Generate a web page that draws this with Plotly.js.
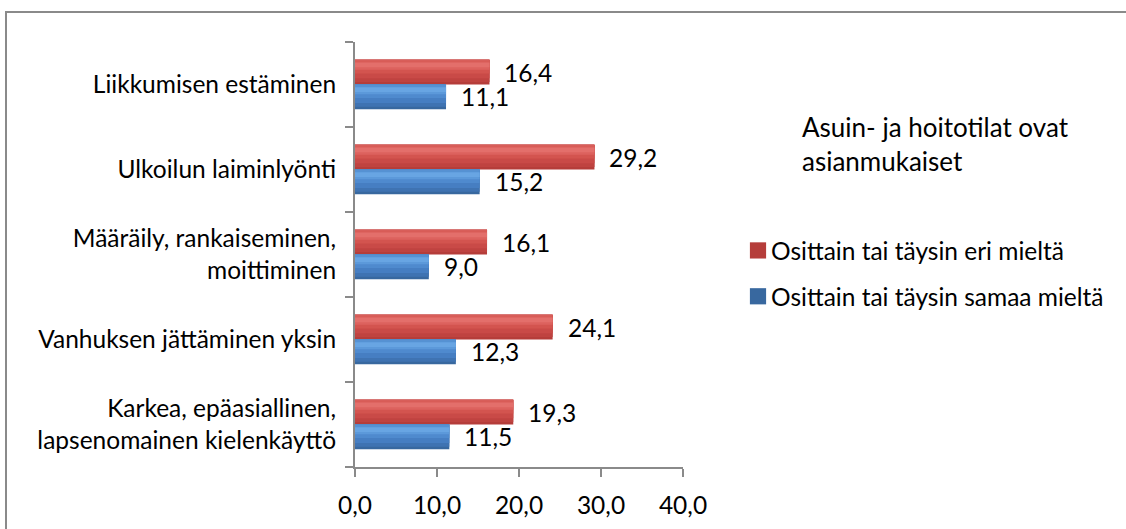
<!DOCTYPE html>
<html>
<head>
<meta charset="utf-8">
<script src="https://cdn.plot.ly/plotly-3.0.1.min.js"></script>
<style>
  html, body { margin: 0; padding: 0; background: #ffffff; overflow: hidden; }
  #chart { width: 1126px; height: 529px; position: absolute; left: 0; top: 0; }
  #frame {
    position: absolute; left: 5px; top: 11px; width: 1300px; height: 700px;
    border-left: 2px solid #8a8a8a; border-top: 2px solid #8a8a8a;
    pointer-events: none;
  }
</style>
</head>
<body>
<div id="chart"></div>
<div id="frame"></div>
<script>
// Categories, listed from the bottom of the axis to the top
const categories = [
  'Karkea, epäasiallinen,<br>lapsenomainen kielenkäyttö',
  'Vanhuksen jättäminen yksin',
  'Määräily, rankaiseminen,<br>moittiminen',
  'Ulkoilun laiminlyönti',
  'Liikkumisen estäminen'
];
const disagreeName = 'Osittain tai täysin eri mieltä';
const agreeName = 'Osittain tai täysin samaa mieltä';
const disagreeValues = [19.3, 24.1, 16.1, 29.2, 16.4];
const agreeValues = [11.5, 12.3, 9.0, 15.2, 11.1];
const xTickValues = [0, 10, 20, 30, 40];
const chartTitle = 'Asuin- ja hoitotilat ovat<br>asianmukaiset';

const FONT = 'Lato, "Open Sans", sans-serif';
const FS = 24.5;
const BAR = 0.29; // bar thickness in category units

// Each series is drawn as a stack of horizontal bands to give the bars a shaded look
function shadedSeries(values, name, group, baseOffset, bands) {
  const idx = categories.map((_, i) => i);
  return bands.map((b, k) => ({
    type: 'bar',
    orientation: 'h',
    x: values,
    y: idx,
    name: name,
    legendgroup: group,
    showlegend: k === 0,
    offset: baseOffset + b.from * BAR,
    width: (b.to - b.from) * BAR,
    marker: { color: b.color, line: { width: 0 } },
    hoverinfo: k === 0 ? 'x+name' : 'skip'
  }));
}

// bands listed bottom to top within a bar
const redBands = [
  { from: 0.0, to: 1.0, color: '#b53d3a' },
  { from: 0.1, to: 1.0, color: '#bf4340' },
  { from: 0.25, to: 1.0, color: '#c94a47' },
  { from: 0.45, to: 1.0, color: '#d3544f' },
  { from: 0.6, to: 0.92, color: '#dc625e' },
  { from: 0.7, to: 0.88, color: '#e36f6b' },
  { from: 0.92, to: 1.0, color: '#d85e5a' }
];
const blueBands = [
  { from: 0.0, to: 1.0, color: '#38689f' },
  { from: 0.1, to: 1.0, color: '#3f73b2' },
  { from: 0.25, to: 1.0, color: '#467ec2' },
  { from: 0.45, to: 1.0, color: '#4f8ace' },
  { from: 0.6, to: 0.92, color: '#5c99da' },
  { from: 0.7, to: 0.88, color: '#68a5e3' },
  { from: 0.92, to: 1.0, color: '#5791d2' }
];

const data = [
  ...shadedSeries(disagreeValues, disagreeName, 'disagree', 0.0, redBands),
  ...shadedSeries(agreeValues, agreeName, 'agree', -BAR, blueBands)
];

const fmt = v => v.toFixed(1).replace('.', ',');
const annotations = [];
categories.forEach((_, i) => {
  annotations.push({
    x: disagreeValues[i], y: i + BAR / 2, xref: 'x', yref: 'y',
    text: fmt(disagreeValues[i]), showarrow: false, xanchor: 'left', xshift: 13,
    font: { family: FONT, size: FS, color: '#000' }
  });
  annotations.push({
    x: agreeValues[i], y: i - BAR / 2, xref: 'x', yref: 'y',
    text: fmt(agreeValues[i]), showarrow: false, xanchor: 'left', xshift: 13,
    font: { family: FONT, size: FS, color: '#000' }
  });
});

const layout = {
  width: 1126,
  height: 529,
  margin: { l: 355, r: 442.5, t: 42, b: 62 },
  paper_bgcolor: '#ffffff',
  plot_bgcolor: '#ffffff',
  barmode: 'overlay',
  separators: ', ',
  font: { family: FONT, size: FS, color: '#000' },
  title: {
    text: chartTitle,
    x: 802 / 1126, xanchor: 'left', xref: 'container',
    y: 1 - 137 / 529, yanchor: 'top', yref: 'container',
    font: { family: FONT, size: 26, color: '#000' }
  },
  xaxis: {
    range: [0, 40],
    tickvals: xTickValues,
    tickformat: '.1f',
    showgrid: false,
    zeroline: false,
    showline: true,
    linecolor: '#8a8a8a',
    linewidth: 2,
    ticks: 'outside',
    ticklen: 8,
    tickwidth: 2,
    tickcolor: '#8a8a8a',
    ticklabelstandoff: 8,
    fixedrange: true
  },
  yaxis: {
    type: 'category',
    range: [-0.5, 4.5],
    tickvals: categories.map((_, i) => i),
    ticktext: categories,
    tickson: 'boundaries',
    showgrid: false,
    zeroline: false,
    showline: true,
    linecolor: '#8a8a8a',
    linewidth: 2,
    ticks: 'outside',
    ticklen: 8,
    tickwidth: 2,
    tickcolor: '#8a8a8a',
    ticklabelstandoff: 12,
    fixedrange: true
  },
  legend: {
    xref: 'container', yref: 'container',
    x: 731 / 1126, xanchor: 'left',
    y: 1 - 228 / 529, yanchor: 'top',
    traceorder: 'grouped',
    tracegroupgap: 11,
    font: { family: FONT, size: FS, color: '#000' },
    bgcolor: 'rgba(0,0,0,0)'
  },
  annotations: annotations,
  showlegend: true
};

Plotly.newPlot('chart', data, layout, { displayModeBar: false, staticPlot: true }).then(gd => {
  // enlarge the legend swatches a little, keeping them next to their labels
  gd.querySelectorAll('.legend .legendpoints path').forEach(p => {
    p.setAttribute('transform', 'translate(27,0) scale(1.35)');
  });
});
</script>
</body>
</html>
